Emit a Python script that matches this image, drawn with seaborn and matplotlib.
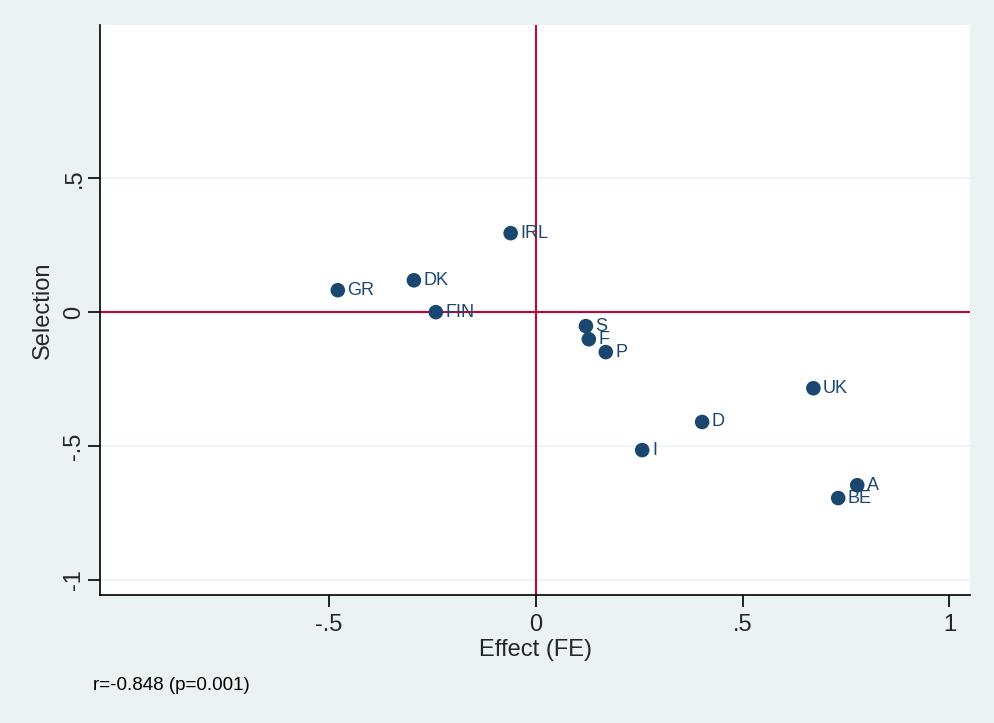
import pandas as pd
import matplotlib.pyplot as plt
import seaborn as sns

countries = ['GR', 'DK', 'FIN', 'IRL', 'S', 'F', 'P', 'I', 'D', 'UK', 'A', 'BE']
effect = [-0.479, -0.295, -0.242, -0.061, 0.121, 0.128, 0.169, 0.257, 0.402, 0.671, 0.777, 0.731]
selection = [0.082, 0.119, 0.0, 0.295, -0.052, -0.101, -0.149, -0.515, -0.41, -0.284, -0.646, -0.694]

x_ticks = [-0.5, 0, 0.5, 1]
x_labels = ['-.5', '0', '.5', '1']
y_ticks = [-1, -0.5, 0, 0.5]
y_labels = ['-1', '-.5', '0', '.5']

df = pd.DataFrame({'country': countries, 'Effect': effect, 'Selection': selection})

bg = '#eaf2f3'
navy = '#1a476f'
red = '#c10534'

sns.set_style('white')
plt.rcParams['font.family'] = ['Liberation Sans', 'DejaVu Sans']

fig = plt.figure(figsize=(9.95, 7.23), dpi=100, facecolor=bg)
ax = fig.add_axes([0.1005, 0.177, 0.8745, 0.788])
ax.set_facecolor('white')

# light grid at the y ticks, red reference lines at zero
for yv in [-1, -0.5, 0.5]:
    ax.axhline(yv, color=bg, linewidth=1.2, zorder=0)
ax.axhline(0, color=red, linewidth=1.5, zorder=1)
ax.axvline(0, color=red, linewidth=1.5, zorder=1)

sns.scatterplot(data=df, x='Effect', y='Selection', ax=ax, color=navy, s=110,
                edgecolor='none', zorder=3)

for _, row in df.iterrows():
    ax.annotate(row['country'], (row['Effect'], row['Selection']), xytext=(7, 0),
                textcoords='offset points', va='center', ha='left',
                fontsize=13, color=navy, zorder=4)

ax.set_xlim(-1.054, 1.05)
ax.set_ylim(-1.056, 1.071)
ax.set_xticks(x_ticks)
ax.set_xticklabels(x_labels, fontsize=17)
ax.set_yticks(y_ticks)
ax.set_yticklabels(y_labels, fontsize=17, rotation=90, va='center')
ax.tick_params(axis='x', direction='out', length=8.5, width=1.2, color='black', pad=5)
ax.tick_params(axis='y', direction='out', length=8.5, width=1.2, color='black', pad=2)
ax.tick_params(axis='both', which='both', bottom=True, left=True)

for side in ['top', 'right']:
    ax.spines[side].set_visible(False)
for side in ['left', 'bottom']:
    ax.spines[side].set_color('black')
    ax.spines[side].set_linewidth(1.2)

ax.set_xlabel('Effect (FE)', fontsize=17, labelpad=2)
ax.set_ylabel('Selection', fontsize=17, labelpad=7)

fig.text(0.093, 0.0456, 'r=-0.848 (p=0.001)', fontsize=13.5, color='black')

plt.savefig('out.png', dpi=100, facecolor=bg)
